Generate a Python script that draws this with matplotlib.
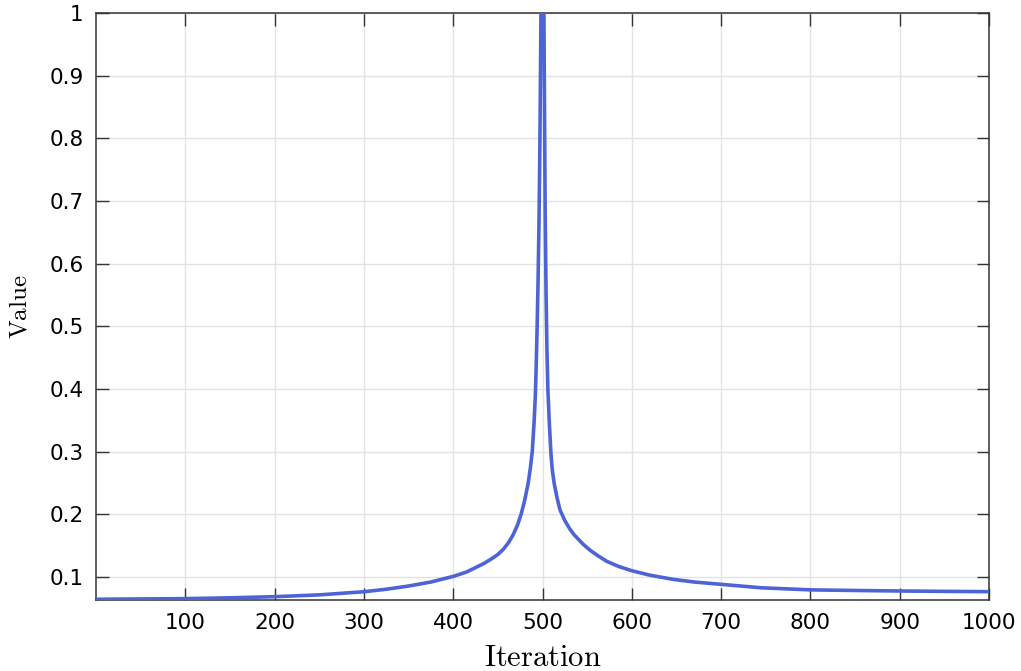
import matplotlib.pyplot as plt

plt.rcParams['mathtext.fontset'] = 'cm'

# curve: left side of the peak, then right side
left_x = [0, 50, 100, 150, 200, 250, 300, 325, 350, 375, 400, 415, 425, 435,
          445, 450, 456, 462, 467, 472, 476, 480, 484, 486.5, 488.5, 490.5,
          492, 493, 494, 495, 496, 497, 498, 499, 500]
left_y = [0.0645, 0.065, 0.0655, 0.0668, 0.0686, 0.0715, 0.0765, 0.0805,
          0.0856, 0.092, 0.101, 0.108, 0.115, 0.122, 0.131, 0.136, 0.144,
          0.155, 0.167, 0.183, 0.2, 0.222, 0.25, 0.275, 0.3, 0.345, 0.39,
          0.44, 0.5, 0.57, 0.66, 0.78, 0.95, 1.15, 1.3]
right_x = [501, 502, 503, 504, 505, 506, 507.5, 509.3, 511, 513, 516, 519.6,
           525, 530, 535, 545, 553, 562, 572, 585, 600, 620, 646, 670, 700,
           745, 800, 850, 900, 950, 1000]
right_y = [1.15, 0.9, 0.68, 0.55, 0.46, 0.4, 0.35, 0.3, 0.27, 0.25, 0.228,
           0.207, 0.19, 0.178, 0.168, 0.153, 0.143, 0.134, 0.125, 0.117, 0.11,
           0.103, 0.0963, 0.092, 0.0883, 0.0828, 0.0795, 0.0785, 0.0777,
           0.0771, 0.0766]

x_ticks = [100, 200, 300, 400, 500, 600, 700, 800, 900, 1000]
y_ticks = [0.1, 0.2, 0.3, 0.4, 0.5, 0.6, 0.7, 0.8, 0.9, 1.0]
y_tick_labels = ['0.1', '0.2', '0.3', '0.4', '0.5', '0.6', '0.7', '0.8', '0.9', '1']

iteration = left_x + right_x
value = left_y + right_y

fig = plt.figure(figsize=(10.21, 6.71), dpi=100)
ax = fig.add_axes([0.094, 0.1058, 0.8747, 0.8748])

ax.plot(iteration, value, color='#4d64d6', lw=2.6, zorder=3,
        solid_joinstyle='round')

ax.set_xlim(0, 1000)
ax.set_ylim(0.0633, 1.0)
ax.set_xticks(x_ticks)
ax.set_yticks(y_ticks)
ax.set_yticklabels(y_tick_labels)
ax.grid(True, color='#e3e3e3', lw=1.0)
ax.set_axisbelow(True)

ax.tick_params(direction='in', length=9, width=1, color='#333333',
               top=True, right=True, labelsize=15.5, pad=9)
for lab in ax.get_xticklabels() + ax.get_yticklabels():
    lab.set_family('DejaVu Sans')
for s in ax.spines.values():
    s.set_color('#333333')
    s.set_linewidth(1.1)

ax.set_xlabel(r'$\mathrm{Iteration}$', fontsize=22)
ax.set_ylabel(r'$\mathrm{Value}$', fontsize=18)
ax.xaxis.set_label_coords(0.5, -0.073)
ax.yaxis.set_label_coords(-0.072, 0.5)

fig.savefig('out.png', dpi=100)
